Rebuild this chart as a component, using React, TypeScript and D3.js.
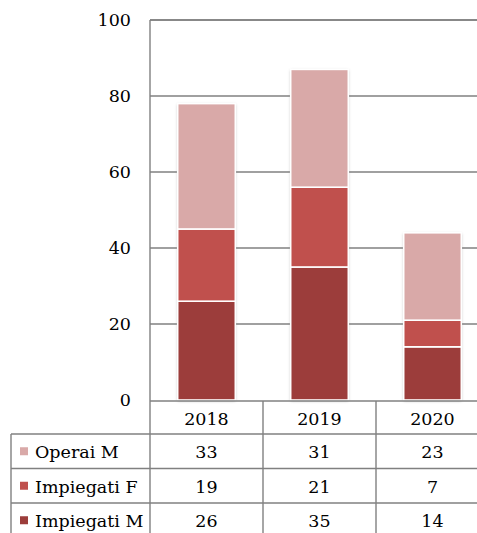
import React, { useRef, useEffect } from "react";
import * as d3 from "d3";

const years = ["2018", "2019", "2020"];
const seriesNames = ["Impiegati M", "Impiegati F", "Operai M"];
const impiegatiM = [26, 35, 14];
const impiegatiF = [19, 21, 7];
const operaiM = [33, 31, 23];
const colors = ["#9C3D3B", "#C0504D", "#D9A9A8"];
const yTicks = [0, 20, 40, 60, 80, 100];

const App = () => {
  const ref = useRef<SVGSVGElement>(null);

  useEffect(() => {
    const width = 477;
    const height = 533;
    const left = 150;
    const top = 20;
    const bottom = 400;
    const font = "'DejaVu Serif', serif";
    const fs = 17.5;

    const svg = d3.select(ref.current!);
    svg.selectAll("*").remove();
    svg.attr("width", width).attr("height", height);

    const defs = svg.append("defs");
    const f = defs.append("filter").attr("id", "shadow")
      .attr("x", "-20%").attr("y", "-5%").attr("width", "140%").attr("height", "110%");
    f.append("feDropShadow").attr("dx", 0).attr("dy", 1).attr("stdDeviation", 1.5)
      .attr("flood-color", "#000").attr("flood-opacity", 0.3);

    const x = d3.scaleBand<string>().domain(years).range([left, left + 113 * 3]);
    const y = d3.scaleLinear().domain([0, 100]).range([bottom, top]);

    const grid = "#808080";

    // gridlines
    svg.append("g").selectAll("line")
      .data(yTicks.filter(t => t > 0))
      .join("line")
      .attr("x1", left).attr("x2", width)
      .attr("y1", d => y(d)).attr("y2", d => y(d))
      .attr("stroke", grid).attr("stroke-width", 1.4);

    // tick labels
    svg.append("g").selectAll("text")
      .data(yTicks)
      .join("text")
      .attr("x", 131).attr("y", d => y(d))
      .attr("text-anchor", "end").attr("dominant-baseline", "central")
      .attr("font-family", font).attr("font-size", fs).attr("fill", "#000")
      .text(d => d);

    // stacked bars
    const rows = years.map((yr, i) => ({ year: yr, "Impiegati M": impiegatiM[i], "Impiegati F": impiegatiF[i], "Operai M": operaiM[i] }));
    const stack = d3.stack<any>().keys(seriesNames)(rows);
    const barW = x.bandwidth() * 0.51;

    const barG = svg.append("g");
    years.forEach((yr, i) => {
      const total = impiegatiM[i] + impiegatiF[i] + operaiM[i];
      barG.append("rect")
        .attr("x", x(yr)! + (x.bandwidth() - barW) / 2)
        .attr("width", barW)
        .attr("y", y(total))
        .attr("height", y(0) - y(total))
        .attr("fill", "#fff")
        .attr("filter", "url(#shadow)");
    });
    stack.forEach((s, si) => {
      barG.append("g").selectAll("rect")
        .data(s)
        .join("rect")
        .attr("x", d => x(d.data.year)! + (x.bandwidth() - barW) / 2)
        .attr("width", barW)
        .attr("y", d => y(d[1]))
        .attr("height", d => y(d[0]) - y(d[1]))
        .attr("fill", colors[si])
        .attr("stroke", "#fff").attr("stroke-width", 1.6);
    });

    // axes / frame
    svg.append("line").attr("x1", left).attr("x2", width).attr("y1", top).attr("y2", top)
      .attr("stroke", grid).attr("stroke-width", 1.4);
    svg.append("line").attr("x1", left).attr("x2", left).attr("y1", top).attr("y2", height)
      .attr("stroke", grid).attr("stroke-width", 1.4);
    svg.append("line").attr("x1", left).attr("x2", width).attr("y1", y(0) + 1).attr("y2", y(0) + 1)
      .attr("stroke", grid).attr("stroke-width", 1.4);

    // data table
    const tableLeft = 11;
    const headerBottom = 434;
    const rowH = 34.5;
    const tableRows = [
      { name: "Operai M", values: operaiM, color: colors[2] },
      { name: "Impiegati F", values: impiegatiF, color: colors[1] },
      { name: "Impiegati M", values: impiegatiM, color: colors[0] },
    ];
    const tg = svg.append("g");

    // header labels
    tg.selectAll("text.yr")
      .data(years)
      .join("text")
      .attr("class", "yr")
      .attr("x", d => x(d)! + x.bandwidth() / 2)
      .attr("y", (y(0) + 1 + headerBottom) / 2 + 1)
      .attr("text-anchor", "middle").attr("dominant-baseline", "central")
      .attr("font-family", font).attr("font-size", fs).text(d => d);

    // column separators
    tg.selectAll("line.col")
      .data(years.slice(1))
      .join("line")
      .attr("class", "col")
      .attr("x1", d => x(d)!).attr("x2", d => x(d)!)
      .attr("y1", y(0) + 1).attr("y2", height)
      .attr("stroke", grid).attr("stroke-width", 1.4);
    tg.append("line").attr("x1", tableLeft).attr("x2", tableLeft)
      .attr("y1", headerBottom).attr("y2", height)
      .attr("stroke", grid).attr("stroke-width", 1.4);

    tableRows.forEach((r, ri) => {
      const y0 = headerBottom + ri * rowH;
      tg.append("line").attr("x1", tableLeft).attr("x2", width).attr("y1", y0).attr("y2", y0)
        .attr("stroke", grid).attr("stroke-width", 1.4);
      tg.append("rect").attr("x", 20).attr("y", y0 + rowH / 2 - 4).attr("width", 8).attr("height", 8)
        .attr("fill", r.color);
      tg.append("text").attr("x", 35).attr("y", y0 + rowH / 2 + 1)
        .attr("dominant-baseline", "central")
        .attr("font-family", font).attr("font-size", fs).text(r.name);
      tg.selectAll(null)
        .data(r.values)
        .enter()
        .append("text")
        .attr("x", (_d, i) => x(years[i])! + x.bandwidth() / 2)
        .attr("y", y0 + rowH / 2 + 1)
        .attr("text-anchor", "middle").attr("dominant-baseline", "central")
        .attr("font-family", font).attr("font-size", fs).text(d => d);
    });
  }, []);

  return <svg ref={ref} style={{ position: "absolute", left: 0, top: 0 }} />;
};

export default App;
